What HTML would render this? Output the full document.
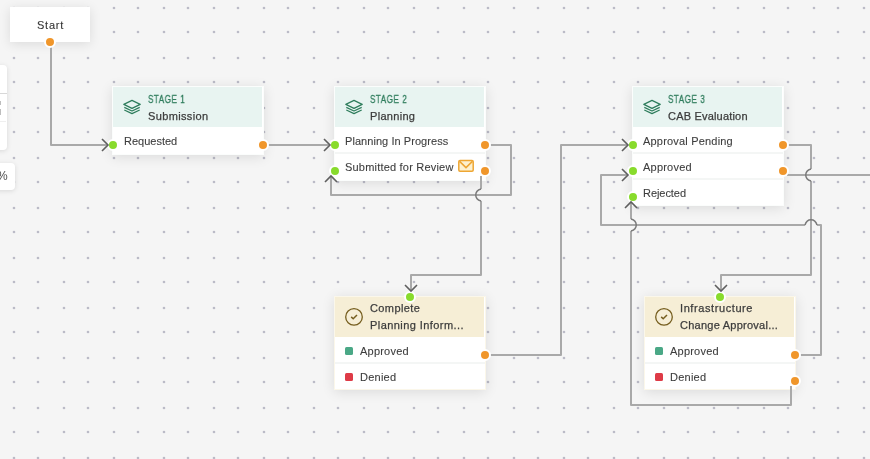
<!DOCTYPE html>
<html><head><meta charset="utf-8">
<style>
*{box-sizing:border-box;margin:0;padding:0}
html,body{width:870px;height:459px;overflow:hidden;background:#f5f5f5;font-family:"Liberation Sans",sans-serif;color:#3a3a3a}
.abs{position:absolute}
svg.full{position:absolute;left:0;top:0;width:870px;height:459px}
.node{position:absolute;background:#fff;border:1.5px solid #fbfdfc;box-shadow:0 2px 12px rgba(0,0,0,0.11)}
.hdr{position:absolute;left:0;right:1px;top:0;height:40px}
.stage .hdr{background:#e8f4f1}
.task{border-color:#fbf7ea}
.task .hdr{background:#f6eed6}
.t{position:absolute;white-space:nowrap;font-size:11px;line-height:13px;will-change:transform}
.st{color:#2f7d5d;font-size:10.5px;-webkit-text-stroke:0.35px #2f7d5d;transform:scaleX(0.76);transform-origin:0 0;letter-spacing:0.8px}
.nm{color:#3c3c3c;font-size:11px;-webkit-text-stroke:0.25px #3c3c3c}
.row{color:#3e3e3e;font-size:11px;-webkit-text-stroke:0.1px #3e3e3e}
.div{position:absolute;left:0;right:0;height:2px;background:#f4f6f5}
.hd{position:absolute;width:12px;height:12px;border-radius:50%;border:2px solid #fff}
.g{background:#88db2c}
.o{background:#f0962a}
.sq{position:absolute;width:8px;height:8px;border-radius:1.5px}
</style></head><body>
<svg class="full">
<defs>
<pattern id="dots" x="0" y="0" width="50" height="50" patternUnits="userSpaceOnUse">
<circle cx="14" cy="8" r="1.35" fill="#bbbbc7"/>
<circle cx="38" cy="8" r="1.35" fill="#bbbbc7"/>
<circle cx="14" cy="32" r="1.35" fill="#bbbbc7"/>
<circle cx="38" cy="32" r="1.35" fill="#bbbbc7"/>
</pattern>
</defs>
<rect width="870" height="459" fill="url(#dots)"/>
</svg>

<!-- left partial panels -->
<div class="abs" style="left:-10px;top:65px;width:17px;height:85px;background:#fff;border-radius:4px;box-shadow:0 1px 5px rgba(0,0,0,0.12)"></div>
<div class="abs" style="left:0;top:93px;width:7px;height:1px;background:#d8d8d8"></div>
<div class="abs" style="left:0;top:121px;width:6px;height:1px;background:#efefef"></div>
<div class="abs" style="left:-10px;top:163px;width:25px;height:27px;background:#fff;border-radius:4px;box-shadow:0 1px 5px rgba(0,0,0,0.12)"></div>
<div class="t" style="left:-3px;top:170px;font-size:12px;color:#505050">%</div>
<div class="abs" style="left:0;top:101px;width:1px;height:4px;background:#bdbdbd"></div>
<div class="abs" style="left:0;top:109px;width:1px;height:6px;background:#bdbdbd"></div>

<!-- Start -->
<div class="abs" style="left:10px;top:7px;width:80px;height:35px;background:#fff;box-shadow:0 2px 12px rgba(0,0,0,0.11)"></div>
<div class="t" style="left:36.5px;top:19px;color:#363636;letter-spacing:0.75px;-webkit-text-stroke:0.12px #363636">Start</div>

<!-- Stage 1 -->
<div class="node stage" style="left:112px;top:86px;width:152px;height:69px">
  <div class="hdr"></div>
</div>
<!-- Stage 2 -->
<div class="node stage" style="left:334px;top:86px;width:152px;height:95px">
  <div class="hdr"></div>
  <div class="div" style="top:65px"></div>
</div>
<!-- Stage 3 -->
<div class="node stage" style="left:632px;top:86px;width:152px;height:120px">
  <div class="hdr"></div>
  <div class="div" style="top:65px"></div>
  <div class="div" style="top:91px"></div>
</div>
<!-- Task 4 -->
<div class="node task" style="left:334px;top:296px;width:152px;height:94px">
  <div class="hdr"></div>
  <div class="div" style="top:65px"></div>
</div>
<!-- Task 5 -->
<div class="node task" style="left:644px;top:296px;width:152px;height:94px">
  <div class="hdr"></div>
  <div class="div" style="top:65px"></div>
</div>

<!-- texts -->
<div class="t st" style="left:148px;top:93px">STAGE 1</div>
<div class="t nm" style="left:148px;top:110px;letter-spacing:0.36px">Submission</div>
<div class="t row" style="left:124px;top:135px">Requested</div>

<div class="t st" style="left:370px;top:93px">STAGE 2</div>
<div class="t nm" style="left:370px;top:110px;letter-spacing:0.3px">Planning</div>
<div class="t row" style="left:345px;top:135px;letter-spacing:0.06px">Planning In Progress</div>
<div class="t row" style="left:345px;top:161px;letter-spacing:0.2px">Submitted for Review</div>

<div class="t st" style="left:668px;top:93px">STAGE 3</div>
<div class="t nm" style="left:668px;top:110px;letter-spacing:0.19px">CAB Evaluation</div>
<div class="t row" style="left:643px;top:135px;letter-spacing:0.19px">Approval Pending</div>
<div class="t row" style="left:643px;top:161px;letter-spacing:0.22px">Approved</div>
<div class="t row" style="left:643px;top:187px;letter-spacing:-0.06px">Rejected</div>

<div class="t nm" style="left:370px;top:302px;letter-spacing:0.39px">Complete</div>
<div class="t nm" style="left:370px;top:319px;letter-spacing:0.43px">Planning Inform...</div>
<div class="t row" style="left:360px;top:345px;letter-spacing:0.22px">Approved</div>
<div class="t row" style="left:360px;top:371px;letter-spacing:0.24px">Denied</div>

<div class="t nm" style="left:680px;top:302px;letter-spacing:0.59px">Infrastructure</div>
<div class="t nm" style="left:680px;top:319px;letter-spacing:0.25px">Change Approval...</div>
<div class="t row" style="left:670px;top:345px;letter-spacing:0.22px">Approved</div>
<div class="t row" style="left:670px;top:371px;letter-spacing:0.24px">Denied</div>

<div class="sq" style="left:345px;top:347px;background:#4aa886"></div>
<div class="sq" style="left:345px;top:373px;background:#de3b47"></div>
<div class="sq" style="left:655px;top:347px;background:#4aa886"></div>
<div class="sq" style="left:655px;top:373px;background:#de3b47"></div>

<!-- icons -->
<svg class="full">
<g fill="none" stroke="#2e7d5c" stroke-width="1.2" stroke-linejoin="round">
  <g><path d="M132 100.4 L140.2 104.4 L132 108.4 L123.8 104.4 Z"/><path d="M124.3 107.4 L132 111 L139.7 107.4"/><path d="M124.3 110 L132 113.6 L139.7 110"/></g>
  <g transform="translate(222 0)"><path d="M132 100.4 L140.2 104.4 L132 108.4 L123.8 104.4 Z"/><path d="M124.3 107.4 L132 111 L139.7 107.4"/><path d="M124.3 110 L132 113.6 L139.7 110"/></g>
  <g transform="translate(520 0)"><path d="M132 100.4 L140.2 104.4 L132 108.4 L123.8 104.4 Z"/><path d="M124.3 107.4 L132 111 L139.7 107.4"/><path d="M124.3 110 L132 113.6 L139.7 110"/></g>
</g>
<g fill="none" stroke="#765e1f" stroke-width="1.3">
  <circle cx="354" cy="316.9" r="8.3"/>
  <path d="M351.2 316.9 L353.2 318.8 L357 315" stroke-width="1.5"/>
  <circle cx="664" cy="316.9" r="8.3"/>
  <path d="M661.2 316.9 L663.2 318.8 L667 315" stroke-width="1.5"/>
</g>
<g>
  <rect x="458.8" y="160.6" width="14.4" height="10.6" rx="1.2" fill="#fdf1cf" stroke="#eea633" stroke-width="1.5"/>
  <path d="M459.6 161.4 L466 167.6 L472.4 161.4" fill="none" stroke="#eea633" stroke-width="1.5"/>
</g>
</svg>

<!-- edges -->
<svg class="full">
<g fill="none" stroke="#a9a9a9" stroke-width="2" stroke-linejoin="round">
  <path d="M51 47 V145 H107"/>
  <path d="M268 145 H329"/>
  <path d="M489 145 H511 V195 H331 V177"/>
  <path d="M481 176 V189 M481 201 V275 H411 V290"/>
  <path d="M489 355 H561 V145 H627"/>
  <path d="M787 145 H811 V169 M811 181 V275 H721 V290"/>
  <path d="M787 175 H870"/>
  <path d="M799 355 H821 V225 H817 M805 225 H601 V175 H627"/>
  <path d="M791 386 V405 H631 V231 M631 219 V203"/>
</g>
<g fill="none" stroke="#7a7a7a" stroke-width="1.5">
  <path d="M481 189 C474 191 474 199 481 201"/>
  <path d="M811 169 C804 171 804 179 811 181"/>
  <path d="M817 225 C815 218 807 218 805 225"/>
  <path d="M631 231 C638 229 638 221 631 219"/>
</g>

</svg>

<!-- handles -->
<div class="hd o" style="left:44px;top:36px"></div>
<div class="hd g" style="left:107px;top:139px"></div>
<div class="hd o" style="left:257px;top:139px"></div>
<div class="hd g" style="left:329px;top:139px"></div>
<div class="hd g" style="left:329px;top:165px"></div>
<div class="hd o" style="left:479px;top:139px"></div>
<div class="hd o" style="left:479px;top:165px"></div>
<div class="hd g" style="left:627px;top:139px"></div>
<div class="hd g" style="left:627px;top:165px"></div>
<div class="hd g" style="left:627px;top:191px"></div>
<div class="hd o" style="left:777px;top:139px"></div>
<div class="hd o" style="left:777px;top:165px"></div>
<div class="hd g" style="left:404px;top:291px"></div>
<div class="hd o" style="left:479px;top:349px"></div>
<div class="hd g" style="left:714px;top:291px"></div>
<div class="hd o" style="left:789px;top:349px"></div>
<div class="hd o" style="left:789px;top:375px"></div>
<svg class="full">
<g fill="none" stroke="#5f5f5f" stroke-width="1.6" stroke-linecap="butt">
  <path d="M102 139 L108 145 L102 151"/>
  <path d="M324 139 L330 145 L324 151"/>
  <path d="M325 182 L331 176 L337 182"/>
  <path d="M405 285 L411 291 L417 285"/>
  <path d="M622 139 L628 145 L622 151"/>
  <path d="M622 169 L628 175 L622 181"/>
  <path d="M625 208 L631 202 L637 208"/>
  <path d="M715 285 L721 291 L727 285"/>
</g>
</svg>
</body></html>
